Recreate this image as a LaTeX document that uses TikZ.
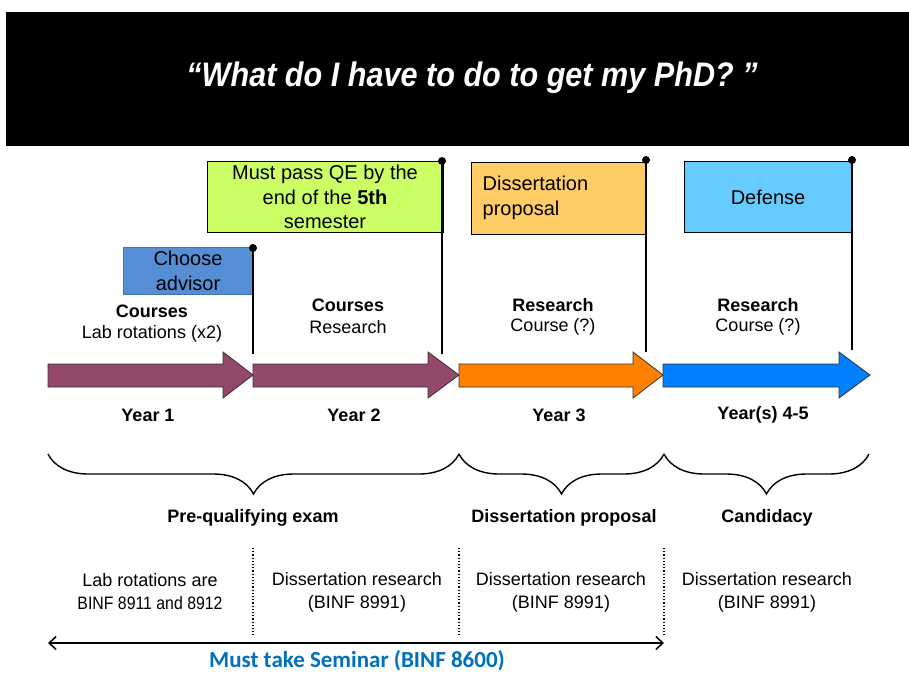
\documentclass[tikz,border=0pt]{standalone}
\usepackage{graphicx}
\usepackage{fontspec}
\setmainfont{Liberation Sans}
\newfontfamily\seminarfont{Carlito}
\usetikzlibrary{arrows.meta,decorations.pathreplacing}
\definecolor{yearplum}{RGB}{147,72,108}
\definecolor{yearorange}{RGB}{255,128,0}
\definecolor{yearblue}{RGB}{0,128,255}
\definecolor{advisorblue}{RGB}{85,142,213}
\definecolor{qegreen}{RGB}{204,255,102}
\definecolor{propgold}{RGB}{255,204,102}
\definecolor{defsky}{RGB}{102,204,255}
\definecolor{seminarblue}{RGB}{0,112,192}
\tikzset{
  flagbox/.style={draw=black, line width=0.8pt, inner sep=0pt, align=center,
    font=\fontsize{20}{24.5}\selectfont},
  pole/.style={line width=2.6pt},
  yeararrow/.style={draw=black!80, line width=0.8pt},
  worktext/.style={align=center, font=\fontsize{18}{23}\selectfont},
  yeartext/.style={font=\fontsize{18}{22}\selectfont\bfseries},
  phasebrace/.style={decorate, decoration={brace, mirror, amplitude=40pt}, line width=1.4pt},
  phasetext/.style={font=\fontsize{18}{22}\selectfont\bfseries},
  coursetext/.style={align=center, font=\fontsize{18}{23}\selectfont},
}
\begin{document}
\begin{tikzpicture}[x=1pt,y=-1pt]
\useasboundingbox (0,0) rectangle (909,672);
%
\fill[black] (6,12) rectangle (909,146);
\node[text=white, font=\fontsize{34}{38}\selectfont\bfseries\itshape] (title) at (472,78)
  {\scalebox{0.9}[1]{``What do I have to do to get my PhD? ''}};
%
% flags
\node[flagbox, draw=advisorblue!80!black, fill=advisorblue, minimum width=130pt, minimum height=47pt] (advisor) at (188,271) {Choose\\advisor};
\node[flagbox, fill=qegreen, minimum width=236pt, minimum height=71pt] (qe) at (325,197)
  {Must pass QE by the\\end of the \textbf{5th}\\semester};
\node[flagbox, fill=propgold, minimum width=175pt, minimum height=72pt] (prop) at (559,198) {};
\node[anchor=west, align=left, font=\fontsize{20}{24.5}\selectfont] (proptext) at (prop.west) [xshift=8pt]
  {Dissertation\\proposal};
\node[flagbox, fill=defsky, minimum width=167pt, minimum height=71pt] (defense) at (768,197) {Defense};
%
\coordinate (advtop) at (253,248);
\coordinate (advbot) at (253,354);
\coordinate (qetop) at (442,161);
\coordinate (qebot) at (442,354);
\coordinate (proptop) at (646,160);
\coordinate (propbot) at (646,352);
\coordinate (deftop) at (852,160);
\coordinate (defbot) at (852,350);
\draw[pole] (advtop) -- (advbot);
\draw[pole] (qetop) -- (qebot);
\draw[pole] (proptop) -- (propbot);
\draw[pole] (deftop) -- (defbot);
\fill (advtop) circle (4pt);
\fill (qetop) circle (4pt);
\fill (proptop) circle (4pt);
\fill (deftop) circle (4pt);
%
% what happens each year
\node[font=\fontsize{18}{22}\selectfont\bfseries] (work1) at (152,311) {Courses};
\node[coursetext] (sub1) at (152,334) {Lab rotations (x2)};
\node[font=\fontsize{18}{22}\selectfont\bfseries] (work2) at (348,305) {Courses};
\node[coursetext] (sub2) at (348,327) {Research};
\node[font=\fontsize{18}{22}\selectfont\bfseries] (work3) at (553,305) {Research};
\node[coursetext] (sub3) at (553,327) {Course (?)};
\node[font=\fontsize{18}{22}\selectfont\bfseries] (work4) at (758,305) {Research};
\node[coursetext] (sub4) at (758,327) {Course (?)};
%
% year arrows
\draw[yeararrow, fill=yearplum] (48,364) -- (223,364) -- (223,352) -- (253,375) -- (223,398) -- (223,387) -- (48,387) -- cycle;
\draw[yeararrow, fill=yearplum] (253,364) -- (428,364) -- (428,352) -- (459,375) -- (428,398) -- (428,387) -- (253,387) -- cycle;
\draw[yeararrow, fill=yearorange] (459,364) -- (633,364) -- (633,352) -- (663,375) -- (633,398) -- (633,387) -- (459,387) -- cycle;
\draw[yeararrow, fill=yearblue] (663,364) -- (839,364) -- (839,352) -- (870,375) -- (839,398) -- (839,387) -- (663,387) -- cycle;
%
\node[yeartext] (year1) at (148,415) {Year 1};
\node[yeartext] (year2) at (354,415) {Year 2};
\node[yeartext] (year3) at (559,415) {Year 3};
\node[yeartext] (year4) at (763,415) {Year(s) 4-5};
%
% phases
\coordinate (b0) at (48,454);
\coordinate (b1) at (459,454);
\coordinate (b2) at (664,454);
\coordinate (b3) at (869,454);
\draw[phasebrace] (b0) -- (b1);
\draw[phasebrace] (b1) -- (b2);
\draw[phasebrace] (b2) -- (b3);
\node[phasetext] (phase1) at (253,518) {Pre-qualifying exam};
\node[phasetext] (phase2) at (564,518) {Dissertation proposal};
\node[phasetext] (phase3) at (767,518) {Candidacy};
%
% credits
\coordinate (d1top) at (253,548);
\coordinate (d1bot) at (253,635);
\coordinate (d2top) at (459,548);
\coordinate (d2bot) at (459,635);
\coordinate (d3top) at (664,548);
\coordinate (d3bot) at (664,635);
\draw[dotted, line width=1.2pt] (d1top) -- (d1bot);
\draw[dotted, line width=1.2pt] (d2top) -- (d2bot);
\draw[dotted, line width=1.2pt] (d3top) -- (d3bot);
\node[worktext] (credit1) at (150,592) {Lab rotations are\\\scalebox{0.88}[1]{BINF 8911 and 8912}};
\node[worktext] (credit2) at (357,592) {Dissertation research\\(BINF 8991)};
\node[worktext] (credit3) at (561,592) {Dissertation research\\(BINF 8991)};
\node[worktext] (credit4) at (767,592) {Dissertation research\\(BINF 8991)};
%
\coordinate (semstart) at (48,643);
\coordinate (semend) at (664,643);
\draw[{Straight Barb[length=7pt,width=13pt]}-{Straight Barb[length=7pt,width=13pt]}, line width=1.5pt] (semstart) -- (semend);
\node[text=seminarblue, font=\fontsize{23}{26}\seminarfont\selectfont\bfseries] (seminar) at (357,661) {Must take Seminar (BINF 8600)};
%
\end{tikzpicture}
\end{document}
